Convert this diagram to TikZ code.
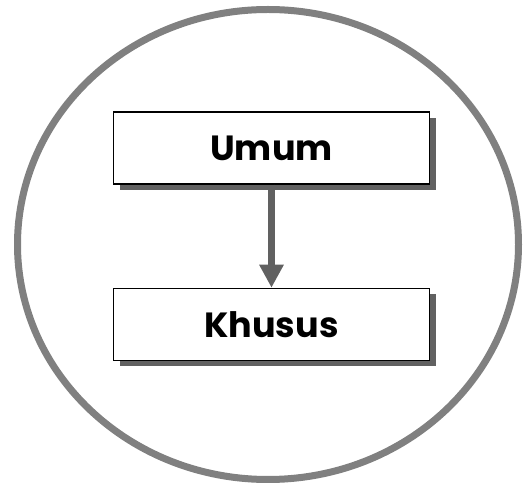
\documentclass[tikz,border=0pt]{standalone}
\usepackage{fontspec}
\setmainfont{Poppins}
\usetikzlibrary{arrows.meta,shadows,positioning}

\tikzset{kotak/.style={draw=black,line width=1.5pt,fill=white,minimum width=316pt,minimum height=72pt,
    font=\fontsize{35}{40}\selectfont\bfseries,
    drop shadow={shadow xshift=6pt,shadow yshift=-6pt,fill=black!62,opacity=1}}}

\begin{document}
\begin{tikzpicture}[x=1pt,y=1pt,>={Triangle[width=23pt,length=23pt]}]
\useasboundingbox (0,0) rectangle (528,485);
\draw[black!50,line width=7pt] (268,240.5) ellipse [x radius=250.5, y radius=235];
\node[kotak] (umum) at (271.5,337) {Umum};
\node[kotak,below=103pt of umum] (khusus) {Khusus};
\draw[->,black!62,line width=7.5pt] (umum) -- (khusus);
\end{tikzpicture}
\end{document}
